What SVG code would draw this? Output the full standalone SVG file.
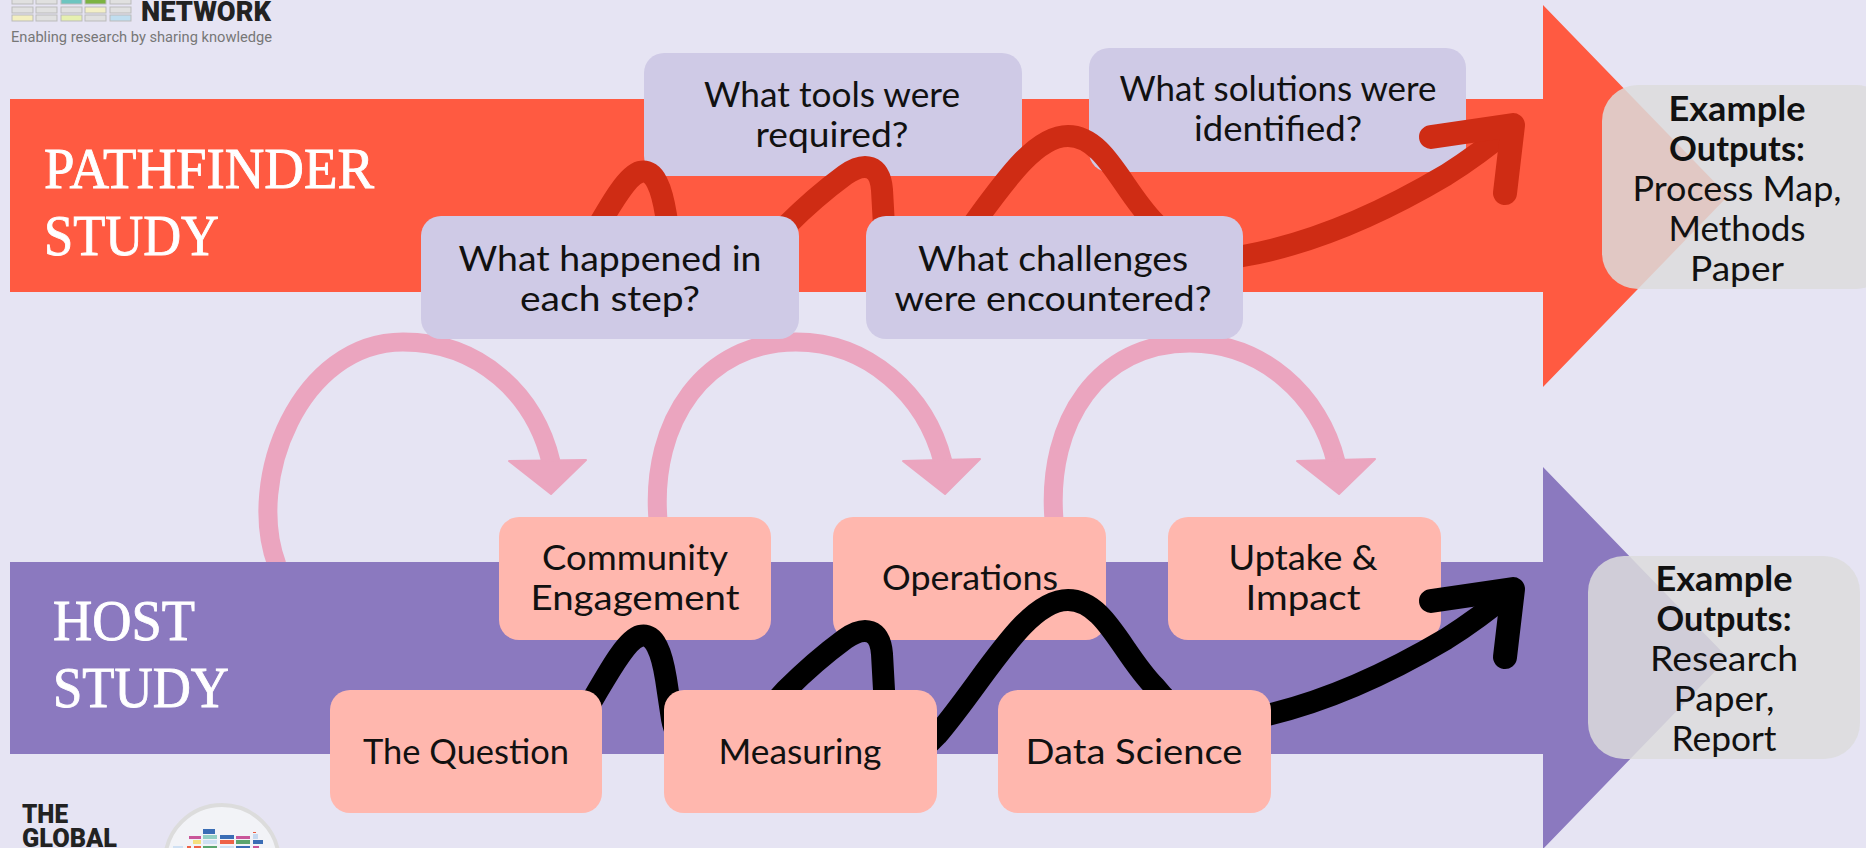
<svg xmlns="http://www.w3.org/2000/svg" width="1866" height="848" viewBox="0 0 1866 848">
<style>
.g{font-family:"Lato","Open Sans",sans-serif;font-size:35px;fill:#111;text-anchor:middle}
.b{font-weight:700}
.t{font-family:"Liberation Serif",serif;font-size:58px;fill:#fff;stroke:#fff;stroke-width:.9}
.up{fill:#cfcae6}
.lo{fill:#ffb7ae}
.ex{fill:#dcdcdc;fill-opacity:.85}
.sq{fill:none;stroke-width:22;stroke-linecap:round;stroke-linejoin:round}
.hd{stroke-width:24}
.arc{fill:none;stroke:#eba5bf;stroke-width:19}
.ah{fill:#eba5bf;stroke:#eba5bf;stroke-width:2;stroke-linejoin:round}
.lg{stroke:#bbb;stroke-width:1}
</style>
<defs>
<path id="sq" d="M590 240C605 215 625 176 640 172C655 168 662 190 666 215L672 255C680 300 730 290 786 226C808 204 830 186 845 175C865 161 880 165 882 190L884 226C886 300 900 310 937 271C985 215 1025 136 1068 136C1105 136 1122 190 1155 223C1180 255 1210 265 1243 256C1300 246 1370 220 1446 175C1470 160 1490 145 1513 126"/>
<path id="sh" d="M1431 137L1513 125L1505 193"/>
</defs>
<rect width="1866" height="848" fill="#e6e4f3"/>
<g id="logo-top">
<g class="lg">
<rect x="12" y="-3" width="21" height="7" fill="#e0e0e0"/><rect x="36" y="-3" width="21" height="7" fill="#e0e0e0"/><rect x="61" y="-3" width="21" height="7" fill="#6cc5c0"/><rect x="85" y="-3" width="21" height="7" fill="#7cb342"/><rect x="110" y="-3" width="21" height="7" fill="#e0e0e0"/>
<rect x="12" y="7" width="21" height="6" fill="#e0e0e0"/><rect x="36" y="7" width="21" height="6" fill="#e0e0e0"/><rect x="61" y="7" width="21" height="6" fill="#e0e0e0"/><rect x="85" y="7" width="21" height="6" fill="#f3efc6"/><rect x="110" y="7" width="21" height="6" fill="#e0e0e0"/>
<rect x="12" y="15" width="21" height="6" fill="#f3efc0"/><rect x="36" y="15" width="21" height="6" fill="#e0e0e0"/><rect x="61" y="15" width="21" height="6" fill="#e6f0b0"/><rect x="85" y="15" width="21" height="6" fill="#e0e0e0"/><rect x="110" y="15" width="21" height="6" fill="#c0def0"/>
</g>
<text x="141" y="21" font-family="Roboto,sans-serif" font-weight="900" font-size="27" fill="#222" textLength="130" lengthAdjust="spacingAndGlyphs">NETWORK</text>
<text x="11" y="42" font-family="Roboto,sans-serif" font-size="15" fill="#777" textLength="261" lengthAdjust="spacingAndGlyphs">Enabling research by sharing knowledge</text>
</g>
<g id="connectors-back">
<path class="arc" d="M277 565C245 480 300 342 403 342C480 342 535 395 551 462"/>
<path class="ah" d="M509 461L586 460L551 494Z"/>
<path class="arc" d="M658 520C650 420 706 342 796 342C868 342 926 395 943 462"/>
<path class="ah" d="M903 461L980 459L945 494Z"/>
<path class="arc" d="M1054 520C1046 420 1100 343 1190 343C1262 343 1320 395 1336 462"/>
<path class="ah" d="M1297 461L1375 459L1339 494Z"/>
</g>
<g id="band-pathfinder">
<path d="M10 99H1543V5L1728 196L1543 387V292H10Z" fill="#ff5a41"/>
<text class="t" x="44" y="188" textLength="330" lengthAdjust="spacingAndGlyphs">PATHFINDER</text>
<text class="t" x="44" y="255" textLength="175" lengthAdjust="spacingAndGlyphs">STUDY</text>
</g>
<g id="band-host">
<path d="M10 562H1543V467L1728 658L1543 849V754H10Z" fill="#8b79bf"/>
<text class="t" x="53" y="640" textLength="142" lengthAdjust="spacingAndGlyphs">HOST</text>
<text class="t" x="53" y="707" textLength="176" lengthAdjust="spacingAndGlyphs">STUDY</text>
</g>
<g id="node-tools"><rect class="up" x="644" y="53" width="378" height="123" rx="20"/><text class="g" x="832" y="107" textLength="256" lengthAdjust="spacingAndGlyphs">What tools were</text><text class="g" x="832" y="147" textLength="153" lengthAdjust="spacingAndGlyphs">required?</text></g>
<g id="node-solutions"><rect class="up" x="1089" y="48" width="377" height="124" rx="20"/><text class="g" x="1278" y="101" textLength="317" lengthAdjust="spacingAndGlyphs">What solutions were</text><text class="g" x="1278" y="141" textLength="168" lengthAdjust="spacingAndGlyphs">identified?</text></g>
<g id="node-community"><rect class="lo" x="499" y="517" width="272" height="123" rx="20"/><text class="g" x="635" y="570" textLength="186" lengthAdjust="spacingAndGlyphs">Community</text><text class="g" x="635" y="610" textLength="209" lengthAdjust="spacingAndGlyphs">Engagement</text></g>
<g id="node-operations"><rect class="lo" x="833" y="517" width="273" height="123" rx="20"/><text class="g" x="970" y="590" textLength="176" lengthAdjust="spacingAndGlyphs">Operations</text></g>
<g id="node-uptake"><rect class="lo" x="1168" y="517" width="273" height="123" rx="20"/><text class="g" x="1303" y="570" textLength="149" lengthAdjust="spacingAndGlyphs">Uptake &amp;</text><text class="g" x="1303" y="610" textLength="115" lengthAdjust="spacingAndGlyphs">Impact</text></g>
<g id="connectors">
<g id="squiggle-pathfinder" stroke="#cf2c14" class="sq"><use href="#sq"/><use href="#sh" class="hd"/></g>
<g id="squiggle-host" stroke="#000" class="sq" transform="translate(0 464)"><use href="#sq"/><use href="#sh" class="hd"/></g>
</g>
<g id="node-happened"><rect class="up" x="421" y="216" width="378" height="123" rx="20"/><text class="g" x="610" y="271" textLength="303" lengthAdjust="spacingAndGlyphs">What happened in</text><text class="g" x="610" y="311" textLength="180" lengthAdjust="spacingAndGlyphs">each step?</text></g>
<g id="node-challenges"><rect class="up" x="866" y="216" width="377" height="123" rx="20"/><text class="g" x="1053" y="271" textLength="270" lengthAdjust="spacingAndGlyphs">What challenges</text><text class="g" x="1053" y="311" textLength="317" lengthAdjust="spacingAndGlyphs">were encountered?</text></g>
<g id="node-question"><rect class="lo" x="330" y="690" width="272" height="123" rx="20"/><text class="g" x="466" y="764" textLength="206" lengthAdjust="spacingAndGlyphs">The Question</text></g>
<g id="node-measuring"><rect class="lo" x="664" y="690" width="273" height="123" rx="20"/><text class="g" x="800" y="764" textLength="163" lengthAdjust="spacingAndGlyphs">Measuring</text></g>
<g id="node-data"><rect class="lo" x="998" y="690" width="273" height="123" rx="20"/><text class="g" x="1134" y="764" textLength="217" lengthAdjust="spacingAndGlyphs">Data Science</text></g>
<g id="outputs-pathfinder"><rect class="ex" x="1602" y="85" width="290" height="204" rx="36"/>
<text class="g b" x="1737" y="121" textLength="137" lengthAdjust="spacingAndGlyphs">Example</text><text class="g b" x="1737" y="161" textLength="136" lengthAdjust="spacingAndGlyphs">Outputs:</text><text class="g" x="1737" y="201" textLength="209" lengthAdjust="spacingAndGlyphs">Process Map,</text><text class="g" x="1737" y="241" textLength="137" lengthAdjust="spacingAndGlyphs">Methods</text><text class="g" x="1737" y="281" textLength="94" lengthAdjust="spacingAndGlyphs">Paper</text></g>
<g id="outputs-host"><rect class="ex" x="1588" y="556" width="272" height="203" rx="36"/>
<text class="g b" x="1724" y="591" textLength="137" lengthAdjust="spacingAndGlyphs">Example</text><text class="g b" x="1724" y="631" textLength="135" lengthAdjust="spacingAndGlyphs">Outputs:</text><text class="g" x="1724" y="671" textLength="148" lengthAdjust="spacingAndGlyphs">Research</text><text class="g" x="1724" y="711" textLength="101" lengthAdjust="spacingAndGlyphs">Paper,</text><text class="g" x="1724" y="751" textLength="105" lengthAdjust="spacingAndGlyphs">Report</text></g>
<g id="logo-bottom">
<text x="22" y="823" font-family="Roboto,sans-serif" font-weight="900" font-size="26" fill="#222" textLength="46" lengthAdjust="spacingAndGlyphs">THE</text>
<text x="22" y="847" font-family="Roboto,sans-serif" font-weight="900" font-size="26" fill="#222" textLength="95" lengthAdjust="spacingAndGlyphs">GLOBAL</text>
<circle cx="222" cy="862" r="57" fill="#f2f3f7" stroke="#dcdcdc" stroke-width="4"/>
<rect x="189" y="836" width="12" height="3" fill="#c9569a"/><rect x="203" y="829" width="12" height="5" fill="#3a6db5"/><rect x="203" y="835" width="14" height="4" fill="#93cfc4"/><rect x="220" y="835" width="14" height="4" fill="#3a6db5"/><rect x="236" y="836" width="14" height="3" fill="#c9569a"/><rect x="253" y="834" width="5" height="5" fill="#c6d9ef"/><rect x="253" y="832" width="3" height="1" fill="#e8583c"/>
<rect x="193" y="840" width="8" height="4" fill="#f4e07e"/><rect x="203" y="840" width="14" height="4" fill="#cfe0f3"/><rect x="220" y="840" width="14" height="4" fill="#ee6247"/><rect x="236" y="840" width="14" height="4" fill="#5aa56e"/><rect x="253" y="840" width="10" height="4" fill="#3a6db5"/>
<rect x="173" y="846" width="10" height="2" fill="#cfe0f3"/><rect x="187" y="846" width="4" height="2" fill="#ee6247"/><rect x="194" y="846" width="7" height="2" fill="#ee6247"/><rect x="203" y="846" width="14" height="2" fill="#5aa56e"/><rect x="220" y="846" width="14" height="2" fill="#cfe0f3"/><rect x="236" y="846" width="14" height="2" fill="#3a6db5"/><rect x="253" y="846" width="6" height="2" fill="#c9569a"/>
</g>
</svg>
